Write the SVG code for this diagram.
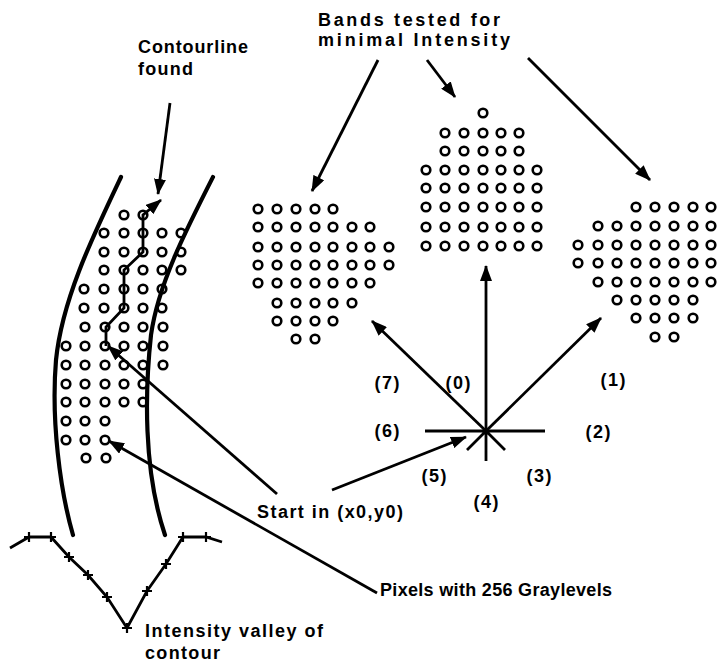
<svg xmlns="http://www.w3.org/2000/svg" width="718" height="663" viewBox="0 0 718 663">
<defs>
<marker id="ah" viewBox="0 0 16 12" refX="15" refY="6" markerWidth="16" markerHeight="12" markerUnits="userSpaceOnUse" orient="auto">
<path d="M0,0 L16,6 L0,12 Z" fill="#000"/>
</marker>
<style>
.t{font-family:"Liberation Sans",Arial,sans-serif;font-weight:bold;font-size:18px;fill:#000}
.lb{font-family:"Liberation Sans",Arial,sans-serif;font-weight:bold;font-size:18px;fill:#000;text-anchor:middle}
.c{fill:none;stroke:#000;stroke-width:2.6}
.ln{fill:none;stroke:#000;stroke-width:2.8}
.ar{fill:none;stroke:#000;stroke-width:2.8;marker-end:url(#ah)}
.cv{fill:none;stroke:#000;stroke-width:4.2;stroke-linecap:round}
.tk{fill:none;stroke:#000;stroke-width:2.2}
</style>
</defs>
<rect width="718" height="663" fill="#fff"/>

<g id="left-grid">
<g class="c">
<circle cx="124" cy="215" r="4.3"/><circle cx="143" cy="215" r="4.3"/>
<circle cx="104" cy="233" r="4.3"/><circle cx="124" cy="233" r="4.3"/><circle cx="143" cy="233" r="4.3"/><circle cx="162" cy="233" r="4.3"/><circle cx="181" cy="233" r="4.3"/>
<circle cx="104" cy="252" r="4.3"/><circle cx="124" cy="252" r="4.3"/><circle cx="143" cy="252" r="4.3"/><circle cx="162" cy="252" r="4.3"/><circle cx="181" cy="252" r="4.3"/>
<circle cx="104" cy="270" r="4.3"/><circle cx="124" cy="270" r="4.3"/><circle cx="143" cy="270" r="4.3"/><circle cx="162" cy="270" r="4.3"/><circle cx="181" cy="270" r="4.3"/>
<circle cx="84" cy="289" r="4.3"/><circle cx="104" cy="289" r="4.3"/><circle cx="124" cy="289" r="4.3"/><circle cx="143" cy="289" r="4.3"/><circle cx="162" cy="289" r="4.3"/>
<circle cx="84" cy="308" r="4.3"/><circle cx="104" cy="308" r="4.3"/><circle cx="124" cy="308" r="4.3"/><circle cx="143" cy="308" r="4.3"/><circle cx="162" cy="308" r="4.3"/>
<circle cx="85" cy="327" r="4.3"/><circle cx="105" cy="327" r="4.3"/><circle cx="124" cy="327" r="4.3"/><circle cx="143" cy="327" r="4.3"/><circle cx="163" cy="327" r="4.3"/>
<circle cx="66" cy="346" r="4.3"/><circle cx="85" cy="346" r="4.3"/><circle cx="105" cy="346" r="4.3"/><circle cx="124" cy="346" r="4.3"/><circle cx="143" cy="346" r="4.3"/><circle cx="163" cy="346" r="4.3"/>
<circle cx="66" cy="365" r="4.3"/><circle cx="85" cy="365" r="4.3"/><circle cx="105" cy="365" r="4.3"/><circle cx="124" cy="365" r="4.3"/><circle cx="143" cy="365" r="4.3"/><circle cx="163" cy="365" r="4.3"/>
<circle cx="66" cy="384" r="4.3"/><circle cx="85" cy="384" r="4.3"/><circle cx="105" cy="384" r="4.3"/><circle cx="124" cy="384" r="4.3"/><circle cx="143" cy="384" r="4.3"/>
<circle cx="66" cy="402" r="4.3"/><circle cx="85" cy="402" r="4.3"/><circle cx="105" cy="402" r="4.3"/><circle cx="124" cy="402" r="4.3"/><circle cx="143" cy="402" r="4.3"/>
<circle cx="66" cy="421" r="4.3"/><circle cx="85" cy="421" r="4.3"/><circle cx="105" cy="421" r="4.3"/>
<circle cx="66" cy="440" r="4.3"/><circle cx="85" cy="440" r="4.3"/><circle cx="105" cy="440" r="4.3"/>
<circle cx="86" cy="458" r="4.3"/><circle cx="106" cy="458" r="4.3"/>
</g>
</g>

<g id="band-7">
<g class="c">
<circle cx="258" cy="209" r="4.3"/><circle cx="277" cy="209" r="4.3"/><circle cx="296" cy="209" r="4.3"/><circle cx="315" cy="209" r="4.3"/><circle cx="333" cy="209" r="4.3"/>
<circle cx="258" cy="227" r="4.3"/><circle cx="277" cy="227" r="4.3"/><circle cx="296" cy="227" r="4.3"/><circle cx="315" cy="227" r="4.3"/><circle cx="333" cy="227" r="4.3"/><circle cx="352" cy="227" r="4.3"/><circle cx="370" cy="227" r="4.3"/>
<circle cx="258" cy="247" r="4.3"/><circle cx="277" cy="247" r="4.3"/><circle cx="296" cy="247" r="4.3"/><circle cx="315" cy="247" r="4.3"/><circle cx="333" cy="247" r="4.3"/><circle cx="352" cy="247" r="4.3"/><circle cx="370" cy="247" r="4.3"/><circle cx="389" cy="247" r="4.3"/>
<circle cx="258" cy="265" r="4.3"/><circle cx="277" cy="265" r="4.3"/><circle cx="296" cy="265" r="4.3"/><circle cx="315" cy="265" r="4.3"/><circle cx="333" cy="265" r="4.3"/><circle cx="352" cy="265" r="4.3"/><circle cx="370" cy="265" r="4.3"/><circle cx="389" cy="265" r="4.3"/>
<circle cx="258" cy="283" r="4.3"/><circle cx="277" cy="283" r="4.3"/><circle cx="296" cy="283" r="4.3"/><circle cx="315" cy="283" r="4.3"/><circle cx="333" cy="283" r="4.3"/><circle cx="352" cy="283" r="4.3"/><circle cx="370" cy="283" r="4.3"/>
<circle cx="277" cy="303" r="4.3"/><circle cx="296" cy="303" r="4.3"/><circle cx="315" cy="303" r="4.3"/><circle cx="333" cy="303" r="4.3"/><circle cx="352" cy="303" r="4.3"/>
<circle cx="277" cy="321" r="4.3"/><circle cx="296" cy="321" r="4.3"/><circle cx="315" cy="321" r="4.3"/><circle cx="333" cy="321" r="4.3"/>
<circle cx="296" cy="339" r="4.3"/><circle cx="315" cy="339" r="4.3"/>
</g>
</g>

<g id="band-0">
<g class="c">
<circle cx="483" cy="113" r="4.3"/>
<circle cx="445" cy="133" r="4.3"/><circle cx="464" cy="133" r="4.3"/><circle cx="483" cy="133" r="4.3"/><circle cx="501" cy="133" r="4.3"/><circle cx="519" cy="133" r="4.3"/>
<circle cx="445" cy="151" r="4.3"/><circle cx="464" cy="151" r="4.3"/><circle cx="483" cy="151" r="4.3"/><circle cx="501" cy="151" r="4.3"/><circle cx="519" cy="151" r="4.3"/>
<circle cx="426" cy="170" r="4.3"/><circle cx="445" cy="170" r="4.3"/><circle cx="464" cy="170" r="4.3"/><circle cx="483" cy="170" r="4.3"/><circle cx="501" cy="170" r="4.3"/><circle cx="519" cy="170" r="4.3"/><circle cx="537" cy="170" r="4.3"/>
<circle cx="426" cy="188" r="4.3"/><circle cx="445" cy="188" r="4.3"/><circle cx="464" cy="188" r="4.3"/><circle cx="483" cy="188" r="4.3"/><circle cx="501" cy="188" r="4.3"/><circle cx="519" cy="188" r="4.3"/><circle cx="537" cy="188" r="4.3"/>
<circle cx="426" cy="207" r="4.3"/><circle cx="445" cy="207" r="4.3"/><circle cx="464" cy="207" r="4.3"/><circle cx="483" cy="207" r="4.3"/><circle cx="501" cy="207" r="4.3"/><circle cx="519" cy="207" r="4.3"/><circle cx="537" cy="207" r="4.3"/>
<circle cx="426" cy="227" r="4.3"/><circle cx="445" cy="227" r="4.3"/><circle cx="464" cy="227" r="4.3"/><circle cx="483" cy="227" r="4.3"/><circle cx="501" cy="227" r="4.3"/><circle cx="519" cy="227" r="4.3"/><circle cx="537" cy="227" r="4.3"/>
<circle cx="426" cy="246" r="4.3"/><circle cx="445" cy="246" r="4.3"/><circle cx="464" cy="246" r="4.3"/><circle cx="483" cy="246" r="4.3"/><circle cx="501" cy="246" r="4.3"/><circle cx="519" cy="246" r="4.3"/><circle cx="537" cy="246" r="4.3"/>
</g>
</g>

<g id="band-1">
<g class="c">
<circle cx="636" cy="207" r="4.3"/><circle cx="655" cy="207" r="4.3"/><circle cx="674" cy="207" r="4.3"/><circle cx="693" cy="207" r="4.3"/><circle cx="711" cy="207" r="4.3"/>
<circle cx="598" cy="226" r="4.3"/><circle cx="617" cy="226" r="4.3"/><circle cx="636" cy="226" r="4.3"/><circle cx="655" cy="226" r="4.3"/><circle cx="674" cy="226" r="4.3"/><circle cx="693" cy="226" r="4.3"/><circle cx="711" cy="226" r="4.3"/>
<circle cx="578" cy="245" r="4.3"/><circle cx="598" cy="245" r="4.3"/><circle cx="617" cy="245" r="4.3"/><circle cx="636" cy="245" r="4.3"/><circle cx="655" cy="245" r="4.3"/><circle cx="674" cy="245" r="4.3"/><circle cx="693" cy="245" r="4.3"/><circle cx="711" cy="245" r="4.3"/>
<circle cx="578" cy="263" r="4.3"/><circle cx="598" cy="263" r="4.3"/><circle cx="617" cy="263" r="4.3"/><circle cx="636" cy="263" r="4.3"/><circle cx="655" cy="263" r="4.3"/><circle cx="674" cy="263" r="4.3"/><circle cx="693" cy="263" r="4.3"/><circle cx="711" cy="263" r="4.3"/>
<circle cx="598" cy="282" r="4.3"/><circle cx="617" cy="282" r="4.3"/><circle cx="636" cy="282" r="4.3"/><circle cx="655" cy="282" r="4.3"/><circle cx="674" cy="282" r="4.3"/><circle cx="693" cy="282" r="4.3"/><circle cx="711" cy="282" r="4.3"/>
<circle cx="617" cy="300" r="4.3"/><circle cx="636" cy="300" r="4.3"/><circle cx="655" cy="300" r="4.3"/><circle cx="674" cy="300" r="4.3"/><circle cx="693" cy="300" r="4.3"/>
<circle cx="636" cy="318" r="4.3"/><circle cx="655" cy="318" r="4.3"/><circle cx="674" cy="318" r="4.3"/><circle cx="693" cy="318" r="4.3"/>
<circle cx="655" cy="337" r="4.3"/><circle cx="674" cy="337" r="4.3"/>
</g>
</g>

<g id="contour-curves">
<path class="cv" d="M121,177 C92,238 62,300 56,360 C51,420 60,490 73,535"/>
<path class="cv" d="M213,177 C185,232 158,285 151,335 C145,390 143,470 165,535"/>
</g>

<g id="valley">
<polyline class="ln" points="10,548 29,537 51,537 69,557 88,575 107,597 127,628 147,591 166,564 183,537 206,537 222,542"/>
<path class="tk" d="M29,532v10 M24,537h10 M51,532v10 M46,537h10 M69,552v10 M64,557h10 M88,570v10 M83,575h10 M107,592v10 M102,597h10 M127,623v10 M122,628h10 M147,586v10 M142,591h10 M166,559v10 M161,564h10 M183,532v10 M178,537h10 M206,532v10 M201,537h10"/>
</g>

<g id="star">
<path class="ln" d="M425,431 H545 M486,431 V461 M486,431 L467,450 M486,431 L505,450"/>
</g>

<g id="connectors">
<polyline class="ar" points="106,346 106,327 124,308 124,270 143,252 143,215 161,200"/>
<line class="ar" x1="170" y1="103" x2="158" y2="194"/>
<line class="ar" x1="378" y1="60" x2="312" y2="191"/>
<line class="ar" x1="427" y1="60" x2="455" y2="97"/>
<line class="ar" x1="528" y1="58" x2="650" y2="180"/>
<line class="ar" x1="486" y1="431" x2="486" y2="266"/>
<line class="ar" x1="486" y1="431" x2="372" y2="321"/>
<line class="ar" x1="486" y1="431" x2="601" y2="318"/>
<line class="ar" x1="332" y1="490" x2="466" y2="437"/>
<line class="ar" x1="277" y1="494" x2="108" y2="346"/>
<line class="ar" x1="377" y1="593" x2="109" y2="441"/>
</g>

<g id="labels">
<text class="t" x="138" y="53" textLength="110" lengthAdjust="spacing">Contourline</text>
<text class="t" x="138" y="75" textLength="55" lengthAdjust="spacing">found</text>
<text class="t" x="318" y="26" textLength="182" lengthAdjust="spacing">Bands tested for</text>
<text class="t" x="318" y="46" textLength="192" lengthAdjust="spacing">minimal  Intensity</text>
<text class="lb" x="458" y="389" textLength="25" lengthAdjust="spacing">(0)</text>
<text class="lb" x="387" y="389" textLength="25" lengthAdjust="spacing">(7)</text>
<text class="lb" x="613" y="386" textLength="25" lengthAdjust="spacing">(1)</text>
<text class="lb" x="387" y="437" textLength="25" lengthAdjust="spacing">(6)</text>
<text class="lb" x="598" y="438" textLength="25" lengthAdjust="spacing">(2)</text>
<text class="lb" x="434" y="482" textLength="25" lengthAdjust="spacing">(5)</text>
<text class="lb" x="539" y="482" textLength="25" lengthAdjust="spacing">(3)</text>
<text class="lb" x="486" y="508" textLength="25" lengthAdjust="spacing">(4)</text>
<text class="t" x="257" y="518" textLength="146" lengthAdjust="spacing">Start in (x0,y0)</text>
<text class="t" x="380" y="596" textLength="232" lengthAdjust="spacing">Pixels with 256 Graylevels</text>
<text class="t" x="145" y="637" textLength="178" lengthAdjust="spacing">Intensity valley of</text>
<text class="t" x="145" y="659" textLength="75" lengthAdjust="spacing">contour</text>
</g>
</svg>
